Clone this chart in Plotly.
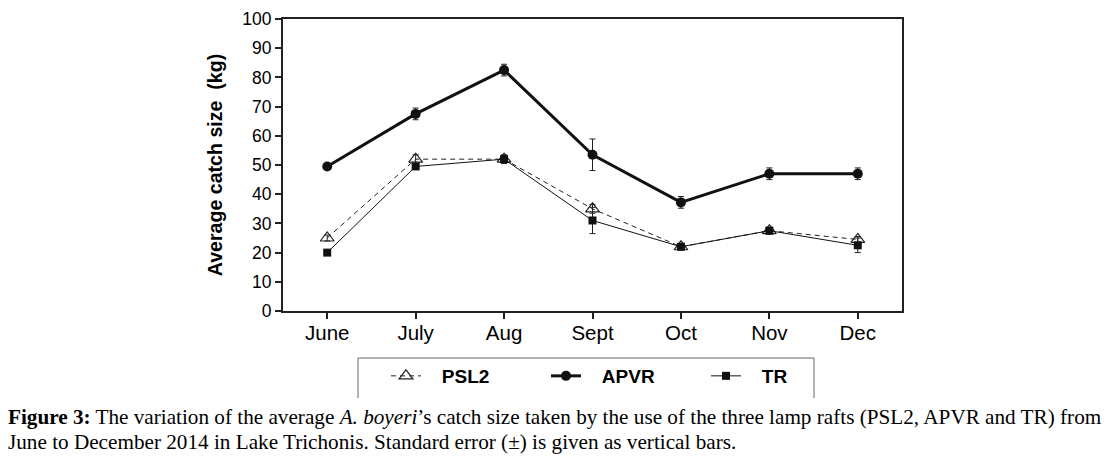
import plotly.graph_objects as go

months = ["June", "July", "Aug", "Sept", "Oct", "Nov", "Dec"]
psl2 = [25, 52, 52, 35, 22, 27.5, 24.5]
psl2_err = [1.0, 1.5, 1.5, 1.5, 1.0, 1.2, 1.0]
apvr = [49.5, 67.5, 82.5, 53.5, 37.2, 47, 47]
apvr_err = [0.5, 2.0, 2.0, 5.4, 2.0, 2.0, 2.0]
tr = [20, 49.5, 52, 31, 22, 27.5, 22.5]
tr_err = [0.5, 1.0, 1.0, 4.5, 1.0, 1.0, 2.5]
y_ticks = [0, 10, 20, 30, 40, 50, 60, 70, 80, 90, 100]

OFF = 8  # page body margin
W, H = 1113 - OFF, 458 - OFF
L, R, T, B = 283, 902, 19, 311  # screen coords of the plot area

def px(x):
    return (x - L) / (R - L)

def py(y):
    return (B - y) / (B - T)

fig = go.Figure()
err_style = dict(type="data", thickness=1, width=3, color="#222")
NB = "\u00a0\u00a0\u00a0"

fig.add_trace(go.Scatter(
    x=months, y=psl2, name=NB + "PSL2", mode="lines+markers",
    line=dict(color="#222", width=1, dash="5px,4px"),
    marker=dict(symbol="triangle-up-open", size=12, color="#222", line=dict(width=1.2, color="#222")),
    error_y=dict(array=psl2_err, **err_style),
))
fig.add_trace(go.Scatter(
    x=months, y=apvr, name=NB + "APVR", mode="lines+markers",
    line=dict(color="#111", width=3),
    marker=dict(symbol="circle", size=10, color="#111"),
    error_y=dict(array=apvr_err, **err_style),
))
fig.add_trace(go.Scatter(
    x=months, y=tr, name=NB + "TR", mode="lines+markers",
    line=dict(color="#111", width=1),
    marker=dict(symbol="square", size=8, color="#111"),
    error_y=dict(array=tr_err, **err_style),
))

ARIAL = "Arial, Liberation Sans, sans-serif"
SERIF = "Liberation Serif, Times New Roman, serif"

fig.update_layout(
    width=W, height=H,
    margin=dict(l=L - OFF, r=W - (R - OFF), t=T - OFF, b=H - (B - OFF), autoexpand=False),
    paper_bgcolor="white", plot_bgcolor="white",
    font=dict(family=ARIAL, size=18, color="#000"),
    showlegend=True,
    legend=dict(
        orientation="h", x=px(386), y=py(357), xanchor="left", yanchor="top",
        font=dict(family=ARIAL, size=19, color="#000", weight="bold"),
        entrywidth=115, bgcolor="rgba(0,0,0,0)", traceorder="normal",
    ),
    xaxis=dict(
        range=[-0.5, 6.5], tickmode="array", tickvals=list(range(len(months))), ticktext=months,
        showline=True, linecolor="#222", linewidth=2, mirror=True,
        ticks="outside", ticklen=6, tickwidth=1.5, tickcolor="#222",
        showgrid=False, zeroline=False, automargin=False, ticklabelstandoff=-4,
        tickfont=dict(family=ARIAL, size=20.5, color="#000"),
    ),
    yaxis=dict(
        range=[0, 100], tickmode="array", tickvals=y_ticks,
        showline=True, linecolor="#222", linewidth=2, mirror=True,
        ticks="outside", ticklen=6, tickwidth=1.5, tickcolor="#222",
        showgrid=False, zeroline=False, automargin=False,
        tickfont=dict(family=ARIAL, size=17.5, color="#000"),
        title=dict(text="<b>Average catch size  (kg)</b>", standoff=14,
                   font=dict(family=ARIAL, size=19.6, color="#000")),
    ),
    shapes=[
        dict(type="line", xref="paper", yref="paper", x0=px(358), x1=px(814), y0=py(358), y1=py(358),
             line=dict(color="#666", width=1)),
        dict(type="line", xref="paper", yref="paper", x0=px(358), x1=px(358), y0=py(358), y1=py(398),
             line=dict(color="#666", width=1)),
        dict(type="line", xref="paper", yref="paper", x0=px(814), x1=px(814), y0=py(358), y1=py(398),
             line=dict(color="#666", width=1)),
    ],
    annotations=[
        dict(xref="paper", yref="paper", x=px(6), y=py(417), xanchor="left", yanchor="middle",
             showarrow=False, align="left",
             text="<b>Figure 3:</b> The variation of the average <i>A. boyeri</i>\u2019s catch size taken by the use of the three lamp rafts (PSL2, APVR and TR) from",
             font=dict(family=SERIF, size=21.2, color="#000")),
        dict(xref="paper", yref="paper", x=px(6), y=py(442), xanchor="left", yanchor="middle",
             showarrow=False, align="left",
             text="June to December 2014 in Lake Trichonis. Standard error (\u00b1) is given as vertical bars.",
             font=dict(family=SERIF, size=21.2, color="#000")),
    ],
)

fig.write_html("out.html")
